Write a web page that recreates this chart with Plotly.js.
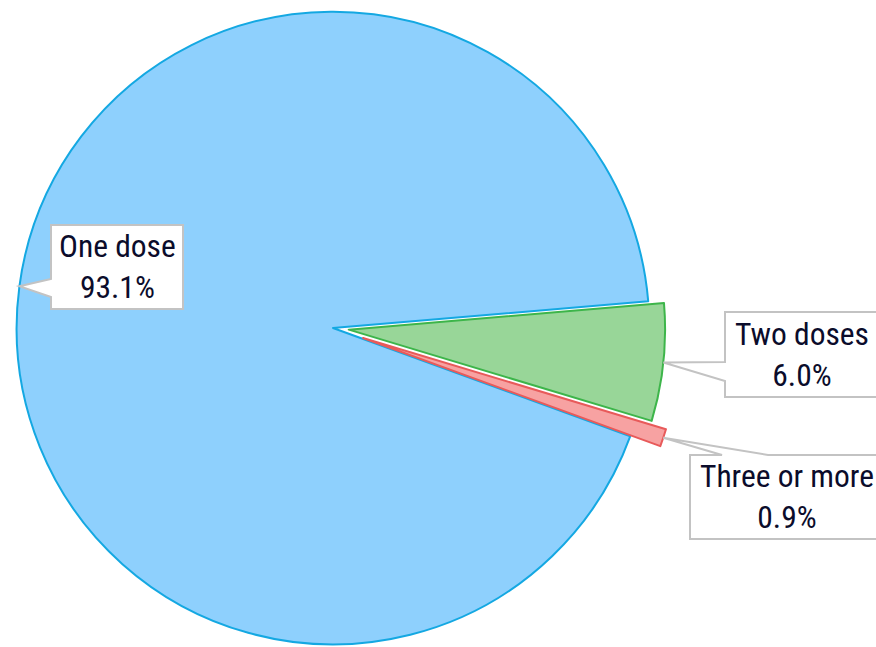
<!DOCTYPE html>
<html>
<head>
<meta charset="utf-8">
<script src="https://cdn.plot.ly/plotly-3.0.1.min.js"></script>
<style>
  html, body { margin: 0; padding: 0; overflow: hidden; background: #ffffff; width: 876px; height: 647px; }
  #chart { position: absolute; left: -15px; top: -20px; width: 900px; height: 696px; }
</style>
</head>
<body>
<div id="chart"></div>
<script>
// ---- data ----
const labels = ["One dose", "Two doses", "Three or more"];
const values = [93.1, 6.0, 0.9];

// ---- styling ----
const fillColors = ["#8ed0fd", "#98d698", "#f7a2a2"];
const lineColors = ["#14a8e2", "#3db54a", "#e85a5a"];
const pulls = [0, 0.05, 0.1];
const rotationDeg = 110;

// ---- layout geometry (div px) ----
const W = 900, H = 696;
const OFFX = -15, OFFY = -20;           // div position on page
const domX = [0, H / W], domY = [0, 1];
// Plotly pie geometry
const maxPull = Math.max(...pulls);
const R = Math.min(W * (domX[1] - domX[0]), H * (domY[1] - domY[0])) / (2 + 2 * maxPull);
const CX = W * (domX[0] + domX[1]) / 2 + OFFX;   // page px
const CY = H * (2 - domY[0] - domY[1]) / 2 + OFFY;

function px(X) { return (X - OFFX) / W; }
function py(Y) { return 1 - (Y - OFFY) / H; }

// slice mid angles (clockwise from 12 o'clock)
const total = values.reduce((a, b) => a + b, 0);
let cur = rotationDeg;
const tips = values.map((v, i) => {
  const span = v / total * 360;
  const mid = (cur + span / 2) * Math.PI / 180;
  cur += span;
  const rr = R * (1 + pulls[i]);
  return [CX + rr * Math.sin(mid), CY - rr * Math.cos(mid)];
});

// callout boxes in page px: [x0, y0, x1, y1], pointer side and base
const boxes = [
  { b: [51, 225, 183, 309], side: "left", base: [279, 297] },
  { b: [725, 312, 878, 397], side: "left", base: [362, 381] },
  { b: [690, 455, 884, 539], side: "top",  base: [722, 768] }
];

function calloutPath(box, tip) {
  const [x0, y0, x1, y1] = box.b;
  let pts;
  if (box.side === "left") {
    pts = [[x0, y0], [x1, y0], [x1, y1], [x0, y1], [x0, box.base[1]], tip, [x0, box.base[0]]];
  } else {
    pts = [[x0, y0], [box.base[0], y0], tip, [box.base[1], y0], [x1, y0], [x1, y1], [x0, y1]];
  }
  return "M" + pts.map(p => px(p[0]).toFixed(5) + "," + py(p[1]).toFixed(5)).join(" L") + " Z";
}

const shapes = boxes.map((box, i) => ({
  type: "path",
  xref: "paper", yref: "paper",
  path: calloutPath(box, tips[i]),
  fillcolor: "#ffffff",
  line: { color: "#c3c3c3", width: 2 },
  layer: "above"
}));

const annotations = boxes.map((box, i) => ({
  xref: "paper", yref: "paper",
  x: px((box.b[0] + box.b[2]) / 2),
  y: py((box.b[1] + box.b[3]) / 2),
  xanchor: "center", yanchor: "middle",
  text: labels[i] + "<br>" + values[i].toFixed(1) + "%",
  showarrow: false,
  align: "center",
  font: { family: "Roboto Condensed, Roboto, sans-serif", size: 31.5, color: "#0b0c2b" }
}));

const trace = {
  type: "pie",
  labels: labels,
  values: values,
  sort: false,
  direction: "clockwise",
  rotation: rotationDeg,
  pull: pulls,
  domain: { x: domX, y: domY },
  marker: { colors: fillColors, line: { color: lineColors, width: 2 } },
  textinfo: "none",
  hoverinfo: "none",
  showlegend: false
};

const layout = {
  width: W, height: H,
  margin: { l: 0, r: 0, t: 0, b: 0 },
  paper_bgcolor: "rgba(0,0,0,0)",
  plot_bgcolor: "rgba(0,0,0,0)",
  showlegend: false,
  shapes: shapes,
  annotations: annotations
};

Plotly.newPlot("chart", [trace], layout, { displayModeBar: false, staticPlot: true });
</script>
</body>
</html>
